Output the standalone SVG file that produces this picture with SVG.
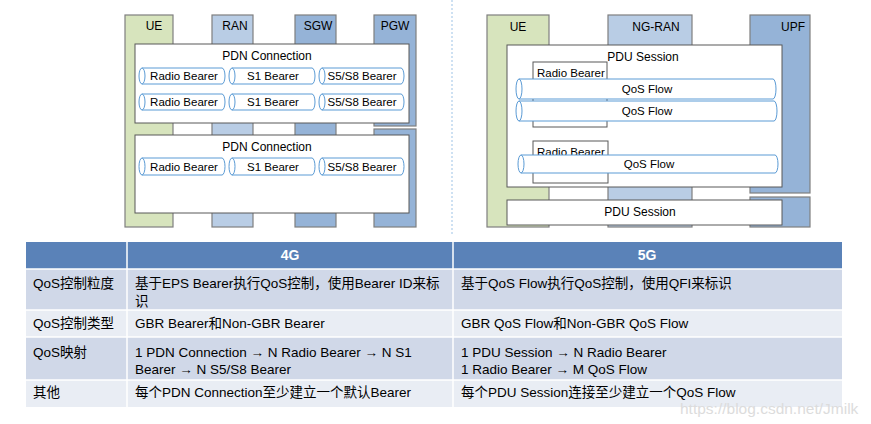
<svg xmlns="http://www.w3.org/2000/svg" width="871" height="424" viewBox="0 0 871 424">
<style>
text{font-family:"Liberation Sans","Noto Sans CJK SC",sans-serif;}
.col{stroke:#7f7f7f;stroke-width:1.2;}
.ue{fill:#d7e4bd;}
.ran{fill:#b9cde5;}
.gw{fill:#95b3d7;}
.box{fill:#ffffff;stroke:#595959;stroke-width:1;}
.cyl{fill:#ffffff;stroke:#5b9bd5;stroke-width:1;}
.lbl{font-size:12px;fill:#000;text-anchor:middle;}
.bt{font-size:11.5px;fill:#000;text-anchor:middle;}
.td{font-size:13.5px;fill:#000;}
.ar{font-weight:bold;}
.th{font-size:14px;fill:#fff;font-weight:bold;text-anchor:middle;}
.r1{fill:#d0d8e8;}
.r2{fill:#e9edf4;}
</style>
<rect width="871" height="424" fill="#ffffff"/>

<!-- 4G diagram -->
<g id="ue4g"><rect class="col ue" x="125" y="15" width="48" height="212"/><text class="lbl" x="154" y="30">UE</text></g>
<g id="ran"><rect class="col ran" x="212" y="15" width="41" height="212"/><text class="lbl" x="235" y="30">RAN</text></g>
<g id="sgw"><rect class="col gw" x="295" y="15" width="41" height="212"/><text class="lbl" x="318" y="30">SGW</text></g>
<g id="pgw"><rect class="col gw" x="374" y="15" width="42" height="111"/><rect class="col gw" x="374" y="129" width="42" height="98"/><text class="lbl" x="395" y="30">PGW</text></g>

<g id="pdn1">
<rect class="box" x="135" y="44" width="274" height="79"/>
<text class="lbl" x="267" y="60">PDN Connection</text>
</g>
<g id="pdn1-bearers">
<path class="cyl" d="M142,68H222A3,8 0 0 1 222,84H142Z"/><ellipse class="cyl" cx="142" cy="76" rx="3" ry="8"/><text class="bt" x="184" y="80">Radio Bearer</text>
<path class="cyl" d="M232,68H312A3,8 0 0 1 312,84H232Z"/><ellipse class="cyl" cx="232" cy="76" rx="3" ry="8"/><text class="bt" x="273" y="80">S1 Bearer</text>
<path class="cyl" d="M322,68H401A3,8 0 0 1 401,84H322Z"/><ellipse class="cyl" cx="322" cy="76" rx="3" ry="8"/><text class="bt" x="362" y="80">S5/S8 Bearer</text>
<path class="cyl" d="M142,94H222A3,8 0 0 1 222,110H142Z"/><ellipse class="cyl" cx="142" cy="102" rx="3" ry="8"/><text class="bt" x="184" y="106">Radio Bearer</text>
<path class="cyl" d="M232,94H312A3,8 0 0 1 312,110H232Z"/><ellipse class="cyl" cx="232" cy="102" rx="3" ry="8"/><text class="bt" x="273" y="106">S1 Bearer</text>
<path class="cyl" d="M322,94H401A3,8 0 0 1 401,110H322Z"/><ellipse class="cyl" cx="322" cy="102" rx="3" ry="8"/><text class="bt" x="362" y="106">S5/S8 Bearer</text>
</g>

<g id="pdn2">
<rect class="box" x="135" y="135" width="274" height="78"/>
<text class="lbl" x="267" y="151">PDN Connection</text>
</g>
<g id="pdn2-bearers">
<path class="cyl" d="M142,158H222A3,8.5 0 0 1 222,175H142Z"/><ellipse class="cyl" cx="142" cy="166.5" rx="3" ry="8.5"/><text class="bt" x="184" y="171">Radio Bearer</text>
<path class="cyl" d="M232,158H312A3,8.5 0 0 1 312,175H232Z"/><ellipse class="cyl" cx="232" cy="166.5" rx="3" ry="8.5"/><text class="bt" x="273" y="171">S1 Bearer</text>
<path class="cyl" d="M322,158H401A3,8.5 0 0 1 401,175H322Z"/><ellipse class="cyl" cx="322" cy="166.5" rx="3" ry="8.5"/><text class="bt" x="362" y="171">S5/S8 Bearer</text>
</g>

<g id="connectors">
<line x1="452" y1="0" x2="452" y2="236" stroke="#9dc3e6" stroke-width="1" stroke-dasharray="2,2"/>
</g>

<!-- 5G diagram -->
<g id="ue5g"><rect class="col ue" x="487" y="15" width="62" height="212"/><text class="lbl" x="518" y="31">UE</text></g>
<g id="ngran"><rect class="col ran" x="608" y="15" width="84" height="212"/><text class="lbl" x="656" y="31">NG-RAN</text></g>
<g id="upf"><rect class="col gw" x="750" y="15" width="60" height="178"/><rect class="col gw" x="750" y="197" width="60" height="30"/><text class="lbl" x="793" y="31">UPF</text></g>

<g id="pdu1">
<rect class="box" x="507" y="45" width="275" height="142"/>
<text class="lbl" x="643" y="61">PDU Session</text>
</g>
<g id="rb1"><rect class="box" x="533" y="62" width="74" height="65"/><text class="bt" x="537" y="77" style="text-anchor:start">Radio Bearer</text></g>
<g id="rb2"><rect class="box" x="533" y="141" width="75" height="42"/><text class="bt" x="537" y="156" style="text-anchor:start">Radio Bearer</text></g>
<g id="qos1"><path class="cyl" d="M519,79H773A3,10 0 0 1 773,99H519Z"/><ellipse class="cyl" cx="519" cy="89" rx="3" ry="10"/><text class="bt" x="647" y="93">QoS Flow</text></g>
<g id="qos2"><path class="cyl" d="M519,101H774A3,10 0 0 1 774,121H519Z"/><ellipse class="cyl" cx="519" cy="111" rx="3" ry="10"/><text class="bt" x="647" y="115">QoS Flow</text></g>
<g id="qos3"><path class="cyl" d="M521,155H775A3,9 0 0 1 775,173H521Z"/><ellipse class="cyl" cx="521" cy="164" rx="3" ry="9"/><text class="bt" x="649" y="168">QoS Flow</text></g>
<g id="pdu2">
<rect class="box" x="507" y="200" width="275" height="25"/>
<text class="lbl" x="640" y="216">PDU Session</text>
</g>

<!-- table -->
<g id="table">
<rect x="26" y="242" width="816" height="27" fill="#5a82b8"/>
<rect class="r1" x="26" y="269" width="816" height="41"/>
<rect class="r2" x="26" y="310" width="816" height="27"/>
<rect class="r1" x="26" y="337" width="816" height="43"/>
<rect class="r2" x="26" y="380" width="816" height="27"/>
<g stroke="#ffffff" stroke-width="1.5">
<line x1="127" y1="242" x2="127" y2="407"/>
<line x1="453" y1="242" x2="453" y2="407"/>
<line x1="26" y1="269" x2="842" y2="269"/>
<line x1="26" y1="310" x2="842" y2="310"/>
<line x1="26" y1="337" x2="842" y2="337"/>
<line x1="26" y1="380" x2="842" y2="380"/>
</g>
<text class="th" x="290" y="260">4G</text>
<text class="th" x="647" y="260">5G</text>
<text class="td" x="33" y="288">QoS控制粒度</text>
<text class="td" x="135" y="288">基于EPS Bearer执行QoS控制，使用Bearer ID来标</text>
<text class="td" x="135" y="306">识</text>
<text class="td" x="461" y="288">基于QoS Flow执行QoS控制，使用QFI来标识</text>
<text class="td" x="33" y="328">QoS控制类型</text>
<text class="td" x="135" y="328">GBR Bearer和Non-GBR Bearer</text>
<text class="td" x="461" y="328">GBR QoS Flow和Non-GBR QoS Flow</text>
<text class="td" x="33" y="357">QoS映射</text>
<text class="td" x="135" y="357">1 PDN Connection <tspan class="ar">→</tspan> N Radio Bearer <tspan class="ar">→</tspan> N S1</text>
<text class="td" x="135" y="374">Bearer <tspan class="ar">→</tspan> N S5/S8 Bearer</text>
<text class="td" x="461" y="357">1 PDU Session <tspan class="ar">→</tspan> N Radio Bearer</text>
<text class="td" x="461" y="374">1 Radio Bearer <tspan class="ar">→</tspan> M QoS Flow</text>
<text class="td" x="33" y="397">其他</text>
<text class="td" x="135" y="397">每个PDN Connection至少建立一个默认Bearer</text>
<text class="td" x="461" y="397">每个PDU Session连接至少建立一个QoS Flow</text>
</g>
<text x="680" y="414" style="font-size:15.5px;fill:#dcdcdc;">https://blog.csdn.net/Jmilk</text>
</svg>
